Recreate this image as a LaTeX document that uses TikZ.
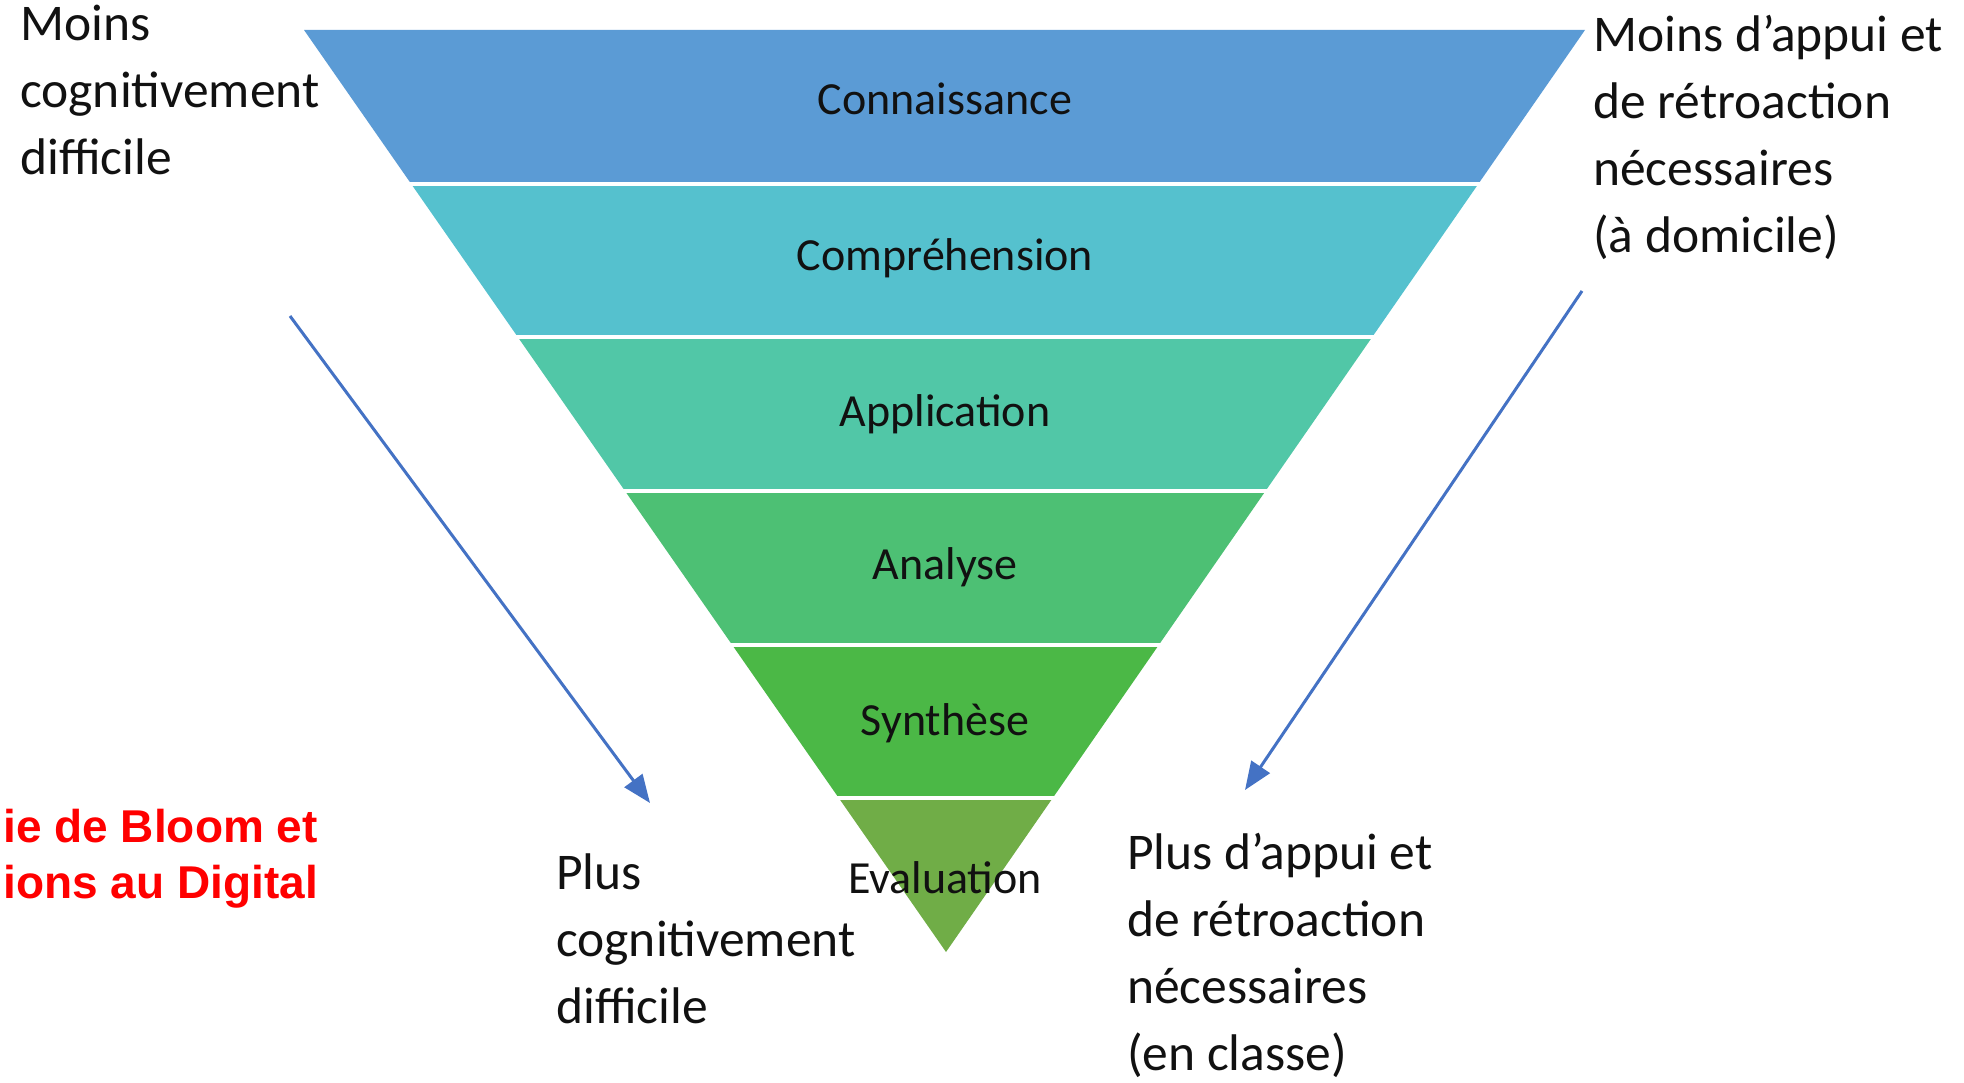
\documentclass[tikz,border=0pt]{standalone}
\usepackage{fontspec}
\setmainfont{Carlito}
\newfontfamily\arialfont{Liberation Sans}
\usetikzlibrary{arrows.meta, calc}
\definecolor{ink}{HTML}{111111}
\definecolor{levelA}{HTML}{5B9BD5}
\definecolor{levelB}{HTML}{55C1CE}
\definecolor{levelC}{HTML}{51C7A7}
\definecolor{levelD}{HTML}{4DC074}
\definecolor{levelE}{HTML}{4BB846}
\definecolor{levelF}{HTML}{70AD47}
\definecolor{arrowB}{HTML}{4472C4}
\definecolor{redT}{HTML}{FF0000}
\tikzset{
  level/.style={font=\fontsize{46}{52}\selectfont, text=ink, anchor=base, inner sep=0pt},
  side/.style={font=\fontsize{51.5}{67}\selectfont, text=ink, align=left, anchor=base west, inner sep=0pt},
  headline/.style={font=\arialfont\bfseries\fontsize{46}{56}\selectfont, text=redT, align=right, anchor=base east, inner sep=0pt},
  flow/.style={draw=arrowB, line width=3pt, -{Triangle[length=28pt,width=22pt]}}
}

\begin{document}
\begin{tikzpicture}[x=1pt,y=1pt]
\useasboundingbox (0,0) rectangle (1964,1082);

\coordinate (tl) at (304,1052);
\coordinate (tr) at (1585,1052);
\coordinate (ap) at (946,130);

% inverted pyramid bands
\foreach \c [count=\i from 0] in {levelA,levelB,levelC,levelD,levelE,levelF} {
  \pgfmathsetmacro{\ta}{\i/6}
  \pgfmathsetmacro{\tb}{(\i+1)/6}
  \fill[\c] ($(tl)!\ta!(ap)$) -- ($(tr)!\ta!(ap)$) -- ($(tr)!\tb!(ap)$) -- ($(tl)!\tb!(ap)$) -- cycle;
}
\foreach \i in {1,...,5} {
  \pgfmathsetmacro{\ta}{\i/6}
  \draw[white, line width=4pt] ($(tl)!\ta!(ap)+(-20,0)$) -- ($(tr)!\ta!(ap)+(20,0)$);
}

\node[level] (connaissance) at (945,967) {Connaissance};
\node[level] (comprehension) at (945,811) {Compréhension};
\node[level] (application) at (945,655) {Application};
\node[level] (analyse) at (945,502) {Analyse};
\node[level] (synthese) at (945,346) {Synthèse};
\node[level] (evaluation) at (945,189) {Evaluation};

% side notes (anchored at the baseline of the last line)
\node[side] (moinsdiff) at (20,907) {Moins\\cognitivement\\difficile};
\node[side] (moinsappui) at (1593,829) {Moins d’appui et\\de rétroaction\\nécessaires\\(à domicile)};
\node[side] (plusdiff) at (556,59) {Plus\\cognitivement\\difficile};
\node[side] (plusappui) at (1127,12) {Plus d’appui et\\de rétroaction\\nécessaires\\(en classe)};

\node[headline] (titre) at (318,184) {ie de Bloom et\\ions au Digital};

% arrows
\coordinate (leftstart) at (290,766);
\coordinate (leftend) at (650,279);
\coordinate (rightstart) at (1582,791);
\coordinate (rightend) at (1245,292);
\draw[flow] (leftstart) -- (leftend);
\draw[flow] (rightstart) -- (rightend);

\end{tikzpicture}
\end{document}
